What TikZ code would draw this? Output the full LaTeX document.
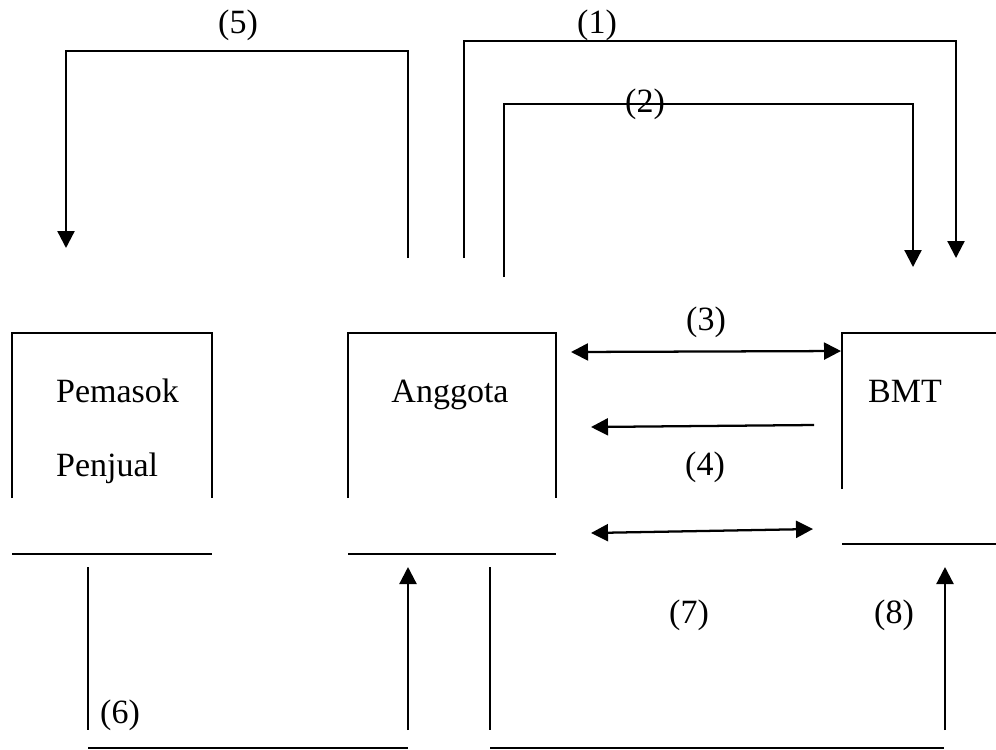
\documentclass[tikz,border=0pt]{standalone}
\usepackage{fontspec}
\setmainfont{Liberation Serif}
\usetikzlibrary{arrows.meta}

\begin{document}
\begin{tikzpicture}[x=0.353pt,y=-0.353pt,line width=0.8pt,
  tip/.style={-{Triangle[width=6pt,length=6pt]}},
  dtip/.style={{Triangle[width=6pt,length=6pt]}-{Triangle[width=6pt,length=6pt]}},
  lbl/.style={font=\fontsize{12}{14}\selectfont,inner sep=0pt}]
\useasboundingbox (0,0) rectangle (996,749);

% open boxes
\draw (12,498) |- (212,333) -- (212,498);
\draw (12,554) -- (212,554);
\draw (348,498) |- (556,333) -- (556,498);
\draw (348,554) -- (556,554);
\draw (842,489) |- (996,333);
\draw (842,544) -- (996,544);
\node[lbl,anchor=base west] (pemasok) at (55,402) {Pemasok};
\node[lbl,anchor=base west] (penjual) at (55,476) {Penjual};
\node[lbl,anchor=base] (anggota) at (450,402) {Anggota};
\node[lbl,anchor=base] (bmt) at (905,402) {BMT};

% ends of the connectors
\coordinate (s5) at (408,258);
\coordinate (e5) at (66,248);
\coordinate (s1) at (464,258);
\coordinate (e1) at (956,258);
\coordinate (s2) at (504,277);
\coordinate (e2) at (913,267);
\coordinate (s3) at (571,352);
\coordinate (e3) at (841,351);
\coordinate (s4) at (814,425);
\coordinate (e4) at (591,427);
\coordinate (s4b) at (591,533);
\coordinate (e4b) at (813,529);
\coordinate (s6) at (88,567);
\coordinate (e6) at (88,730);
\coordinate (s6b) at (408,730);
\coordinate (e6b) at (408,567);
\coordinate (s7) at (490,567);
\coordinate (e7) at (490,730);
\coordinate (s8) at (945,730);
\coordinate (e8) at (945,567);

\draw[tip] (s5) -- ++(0,-207) -| (e5);
\draw[tip] (s1) -- ++(0,-217) -| (e1);
\draw[tip] (s2) -- ++(0,-173) -| (e2);
\draw[dtip] (s3) -- (e3);
\draw[tip] (s4) -- (e4);
\draw[dtip] (s4b) -- (e4b);
\draw (s6) -- (e6);
\draw (88,748) -- (408,748);
\draw[tip] (s6b) -- (e6b);
\draw (s7) -- (e7);
\draw (490,748) -- (944,748);
\draw[tip] (s8) -- (e8);

\node[lbl] (l5) at (238,25) {(5)};
\node[lbl] (l1) at (597,25) {(1)};
\node[lbl] (l2) at (645,104) {(2)};
\node[lbl] (l3) at (706,322) {(3)};
\node[lbl] (l4) at (705,467) {(4)};
\node[lbl] (l6) at (120,715) {(6)};
\node[lbl] (l7) at (689,615) {(7)};
\node[lbl] (l8) at (894,615) {(8)};
\end{tikzpicture}
\end{document}
